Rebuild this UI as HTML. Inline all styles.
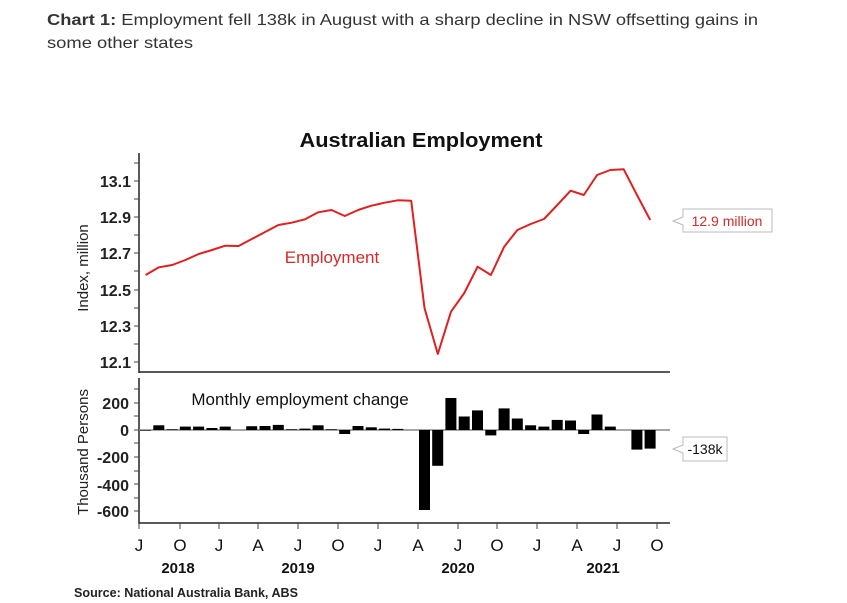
<!DOCTYPE html>
<html><head><meta charset="utf-8"><style>
html,body{margin:0;padding:0;background:#fff;}
svg{display:block;}
</style></head><body>
<svg width="847" height="603" viewBox="0 0 847 603" xmlns="http://www.w3.org/2000/svg" font-family="'Liberation Sans', sans-serif">
<text x="47" y="25" font-size="16" fill="#333" textLength="711" lengthAdjust="spacingAndGlyphs"><tspan font-weight="bold">Chart 1:</tspan> Employment fell 138k in August with a sharp decline in NSW offsetting gains in</text>
<text x="47" y="48" font-size="16" fill="#333" textLength="146" lengthAdjust="spacingAndGlyphs">some other states</text>

<text x="421" y="147" font-size="20" font-weight="bold" text-anchor="middle" fill="#111" textLength="243" lengthAdjust="spacingAndGlyphs">Australian Employment</text>

<g stroke="#222" stroke-width="1.5" fill="none">
<line x1="139" y1="153" x2="139" y2="373"/>
<line x1="139" y1="372" x2="670" y2="372"/>
</g>
<g stroke="#444" stroke-width="1">
<line x1="134" y1="163" x2="139" y2="163"/><line x1="134" y1="181" x2="139" y2="181"/><line x1="134" y1="199" x2="139" y2="199"/><line x1="134" y1="217" x2="139" y2="217"/><line x1="134" y1="235" x2="139" y2="235"/><line x1="134" y1="253" x2="139" y2="253"/><line x1="134" y1="271" x2="139" y2="271"/><line x1="134" y1="290" x2="139" y2="290"/><line x1="134" y1="308" x2="139" y2="308"/><line x1="134" y1="326" x2="139" y2="326"/><line x1="134" y1="344" x2="139" y2="344"/><line x1="134" y1="362" x2="139" y2="362"/>
</g>
<g font-size="16" fill="#222" text-anchor="end" font-weight="bold">
<text x="131" y="187">13.1</text><text x="131" y="223">12.9</text><text x="131" y="259">12.7</text><text x="131" y="296">12.5</text><text x="131" y="332">12.3</text><text x="131" y="368">12.1</text>
</g>
<text transform="translate(88,268) rotate(-90)" font-size="15" fill="#222" text-anchor="middle">Index, million</text>
<text x="332" y="263" font-size="17" fill="#d42a2a" text-anchor="middle">Employment</text>
<polyline fill="none" stroke="#e02020" stroke-width="2" stroke-linejoin="round" points="145.6,275 158.9,267.3 172.2,265 185.4,260 198.7,254 212,250 225.3,245.7 238.6,246 251.8,239 265.1,232 278.4,225 291.7,222.7 305,219.3 318.2,212.3 331.5,210 344.8,216 358.1,210 371.4,205.7 384.6,202.7 397.9,200.3 411.2,200.7 424.5,308 437.8,354 451,311.7 464.3,293 477.6,266.7 490.9,275 504.2,246.7 517.4,230 530.7,224 544,219 557.3,205 570.6,190.7 583.8,195 597.1,175 610.4,170 623.7,169.3 637,195 650.2,220"/>
<path d="M683,209 H772 V232 H683 V225 L673,221 L683,217 Z" fill="#fff" stroke="#bbb"/>
<text x="727" y="226" font-size="14" fill="#d42a2a" text-anchor="middle">12.9 million</text>

<g stroke="#222" stroke-width="1.5" fill="none">
<line x1="139" y1="378" x2="139" y2="524"/>
<line x1="139" y1="523" x2="670" y2="523"/>
</g>
<line x1="139" y1="430" x2="670" y2="430" stroke="#888" stroke-width="1.5"/>
<g stroke="#444" stroke-width="1">
<line x1="134" y1="389" x2="139" y2="389"/><line x1="134" y1="403" x2="139" y2="403"/><line x1="134" y1="416" x2="139" y2="416"/><line x1="134" y1="430" x2="139" y2="430"/><line x1="134" y1="443" x2="139" y2="443"/><line x1="134" y1="457" x2="139" y2="457"/><line x1="134" y1="471" x2="139" y2="471"/><line x1="134" y1="484" x2="139" y2="484"/><line x1="134" y1="498" x2="139" y2="498"/><line x1="134" y1="511" x2="139" y2="511"/>
<line x1="139" y1="523" x2="139" y2="529"/><line x1="180" y1="523" x2="180" y2="529"/><line x1="219" y1="523" x2="219" y2="529"/><line x1="258" y1="523" x2="258" y2="529"/><line x1="298" y1="523" x2="298" y2="529"/><line x1="338" y1="523" x2="338" y2="529"/><line x1="378" y1="523" x2="378" y2="529"/><line x1="418" y1="523" x2="418" y2="529"/><line x1="458" y1="523" x2="458" y2="529"/><line x1="497" y1="523" x2="497" y2="529"/><line x1="537" y1="523" x2="537" y2="529"/><line x1="577" y1="523" x2="577" y2="529"/><line x1="617" y1="523" x2="617" y2="529"/><line x1="657" y1="523" x2="657" y2="529"/>
</g>
<g font-size="16" fill="#222" text-anchor="end" font-weight="bold">
<text x="129" y="409">200</text><text x="129" y="436">0</text><text x="129" y="463">-200</text><text x="129" y="491">-400</text><text x="129" y="517">-600</text>
</g>
<text transform="translate(88,452) rotate(-90)" font-size="15" fill="#222" text-anchor="middle">Thousand Persons</text>
<text x="300" y="405" font-size="17" fill="#111" text-anchor="middle">Monthly employment change</text>
<g fill="#000">
<rect x="140" y="430" width="11" height="0.6"/>
<rect x="153.3" y="425.3" width="11" height="4.7"/>
<rect x="166.6" y="429.3" width="11" height="0.7"/>
<rect x="179.8" y="426.6" width="11" height="3.4"/>
<rect x="193.1" y="426.6" width="11" height="3.4"/>
<rect x="206.4" y="428" width="11" height="2"/>
<rect x="219.7" y="426.6" width="11" height="3.4"/>
<rect x="246.2" y="426.2" width="11" height="3.8"/>
<rect x="259.5" y="426" width="11" height="4"/>
<rect x="272.8" y="424.9" width="11" height="5.1"/>
<rect x="286.1" y="429.3" width="11" height="0.7"/>
<rect x="299.4" y="428.6" width="11" height="1.4"/>
<rect x="312.6" y="425.3" width="11" height="4.7"/>
<rect x="325.9" y="429.3" width="11" height="0.7"/>
<rect x="339.2" y="430" width="11" height="4"/>
<rect x="352.5" y="426" width="11" height="4"/>
<rect x="365.8" y="427.3" width="11" height="2.7"/>
<rect x="379" y="428.6" width="11" height="1.4"/>
<rect x="392.3" y="428.9" width="11" height="1.1"/>
<rect x="419" y="430" width="11" height="80"/>
<rect x="432.2" y="430" width="11" height="35.8"/>
<rect x="445.4" y="398" width="11" height="32"/>
<rect x="458.7" y="416.5" width="11" height="13.5"/>
<rect x="472" y="410.4" width="11" height="19.6"/>
<rect x="485.3" y="430" width="11" height="5.4"/>
<rect x="498.6" y="408.4" width="11" height="21.6"/>
<rect x="511.8" y="418.5" width="11" height="11.5"/>
<rect x="525.1" y="425.3" width="11" height="4.7"/>
<rect x="538.4" y="426.6" width="11" height="3.4"/>
<rect x="551.7" y="419.9" width="11" height="10.1"/>
<rect x="565" y="420.5" width="11" height="9.5"/>
<rect x="578.2" y="430" width="11" height="4"/>
<rect x="591.5" y="414.5" width="11" height="15.5"/>
<rect x="604.8" y="426.6" width="11" height="3.4"/>
<rect x="631.4" y="430" width="11" height="19.6"/>
<rect x="644.6" y="430" width="11" height="18.6"/>
</g>
<path d="M683,437 H727 V461 H683 V453 L673,449 L683,445 Z" fill="#fff" stroke="#bbb"/>
<text x="705" y="454" font-size="14" fill="#111" text-anchor="middle">-138k</text>

<g font-size="17" fill="#111" text-anchor="middle">
<text x="139" y="551">J</text><text x="180" y="551">O</text><text x="219" y="551">J</text><text x="258" y="551">A</text><text x="298" y="551">J</text><text x="338" y="551">O</text><text x="378" y="551">J</text><text x="418" y="551">A</text><text x="458" y="551">J</text><text x="497" y="551">O</text><text x="537" y="551">J</text><text x="577" y="551">A</text><text x="617" y="551">J</text><text x="657" y="551">O</text>
</g>
<g font-size="15" fill="#111" text-anchor="middle" font-weight="bold">
<text x="178" y="573">2018</text><text x="298" y="573">2019</text><text x="458" y="573">2020</text><text x="603" y="573">2021</text>
</g>
<text x="74" y="597" font-size="13" font-weight="bold" fill="#222" textLength="224" lengthAdjust="spacingAndGlyphs">Source: National Australia Bank, ABS</text>
</svg>
</body></html>
